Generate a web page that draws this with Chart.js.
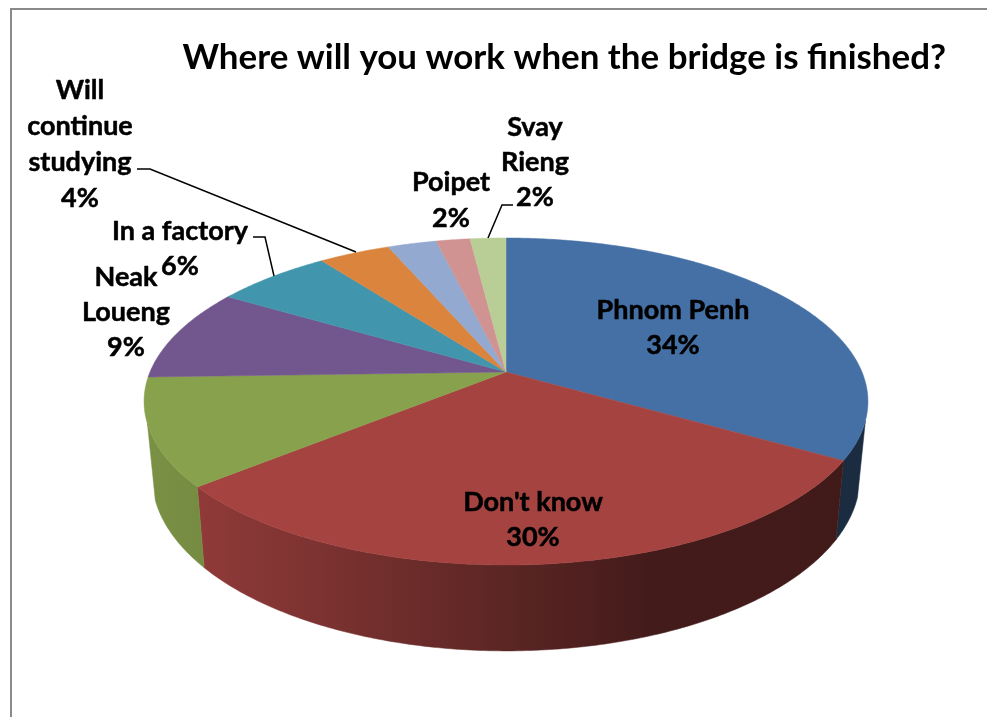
<!DOCTYPE html>
<html><head><meta charset="utf-8">
<style>
html,body{margin:0;padding:0;background:#fff;overflow:hidden}
#wrap{position:relative;width:987px;height:717px}
#frame{position:absolute;left:10px;top:8px;right:0;bottom:0;border-left:2px solid #8a8a8a;border-top:2px solid #8a8a8a;pointer-events:none}
canvas{display:block}
</style>
<script src="https://cdn.jsdelivr.net/npm/chart.js@4"></script>
</head><body>
<div id="wrap"><canvas id="c" width="987" height="717"></canvas><div id="frame"></div></div>
<script>
const chartTitle = "Where will you work when the bridge is finished?";
const categories = ["Phnom Penh","Don't know","","Neak Loueng","In a factory","Will continue studying","","Poipet","Svay Rieng"];
const shares = [33.5,30.4,10.6,9.2,6.2,3.8,2.6,1.8,1.9];
const sliceColors = ["#4570a5","#a54341","#88a14c","#72578f","#4196ad","#db843d","#93a9cf","#d19392","#b9cd96"];
const labelLines = [["Phnom Penh"],["Don't know"],[],["Neak","Loueng"],["In a factory"],["Will","continue","studying"],[],["Poipet"],["Svay","Rieng"]];

const FONT = 'Lato, Carlito, "Open Sans", sans-serif';
const geo = {cx:506, cy:372, A:91.06, B:-0.1804, D:356};
function top3d(t){
  const x=Math.cos(t), y=Math.sin(t), w=1+geo.B*y;
  return [geo.cx+geo.D*x/w, (geo.cy+geo.A*y)/w];
}
function bottom3d(p){
  return [geo.cx+(p[0]-geo.cx)*0.978, p[1]+79+(p[1]-460)*0.066];
}
function rgb(hex){return [1,3,5].map(i=>parseInt(hex.substr(i,2),16));}
const shadeStops=[[150,.90],[196,.87],[330,.74],[500,.56],[650,.41],[870,.39]];
function sideGradient(ctx,hex){
  const g=ctx.createLinearGradient(150,0,870,0), c=rgb(hex);
  shadeStops.forEach(([x,s])=>g.addColorStop((x-150)/720,`rgb(${c.map(v=>Math.round(v*s)).join(',')})`));
  return g;
}
const labelPlacement=[
  {x:673,y:310,dy:35},{x:533,y:502,dy:35},null,{x:126,y:277,dy:35},
  {x:180,y:231,dy:35},{x:80,y:90,dy:36},null,{x:451,y:182,dy:36},{x:535,y:127,dy:35}
];
const leaders=[
  null,null,null,null,
  [[253,237],[265,237],[274,276]],
  [[137,169],[150,169],[356,252]],
  null,null,
  [[513,205],[502,205],[488,238]]
];
const pie3d={
  id:'pie3d',
  beforeDatasetsDraw(chart){
    const ctx=chart.ctx, arcs=chart.getDatasetMeta(0).data;
    const lo=17*Math.PI/180, hi=162*Math.PI/180;
    arcs.forEach(a=>{
      const s=Math.max(a.startAngle,lo), e=Math.min(a.endAngle,hi);
      if(e<=s) return;
      const n=Math.max(4,Math.ceil((e-s)*90));
      ctx.beginPath();
      const tops=[];
      for(let i=0;i<=n;i++) tops.push(top3d(s+(e-s)*i/n));
      tops.forEach((p,i)=>i?ctx.lineTo(p[0],p[1]):ctx.moveTo(p[0],p[1]));
      tops.slice().reverse().forEach(p=>{const b=bottom3d(p);ctx.lineTo(b[0],b[1]);});
      ctx.closePath();
      const g=sideGradient(ctx,a.options.backgroundColor);
      ctx.fillStyle=g;ctx.fill();ctx.strokeStyle=g;ctx.lineWidth=.5;ctx.stroke();
    });
    arcs.forEach(a=>{
      const n=Math.max(4,Math.ceil((a.endAngle-a.startAngle)*90));
      ctx.beginPath();ctx.moveTo(geo.cx,geo.cy);
      for(let i=0;i<=n;i++){
        const p=top3d(a.startAngle+(a.endAngle-a.startAngle)*i/n);
        ctx.lineTo(p[0],p[1]);
      }
      ctx.closePath();
      ctx.fillStyle=a.options.backgroundColor;ctx.fill();
      ctx.strokeStyle=a.options.backgroundColor;ctx.lineWidth=.5;ctx.stroke();
    });
    return false;
  },
  afterDraw(chart){
    const ctx=chart.ctx;
    ctx.save();
    ctx.strokeStyle='#000';ctx.lineWidth=1.5;
    leaders.forEach(l=>{
      if(!l) return;
      ctx.beginPath();
      l.forEach((p,i)=>i?ctx.lineTo(p[0],p[1]):ctx.moveTo(p[0],p[1]));
      ctx.stroke();
    });
    ctx.fillStyle='#000';
    ctx.font='bold 27px '+FONT;
    ctx.textAlign='center';ctx.textBaseline='middle';
    ctx.lineWidth=.5;ctx.lineJoin='round';
    labelLines.forEach((lines,i)=>{
      const pl=labelPlacement[i];
      if(!pl) return;
      const all=lines.concat([Math.round(shares[i])+'%']);
      all.forEach((t,j)=>{
        ctx.fillText(t,pl.x,pl.y+j*pl.dy);
        ctx.strokeText(t,pl.x,pl.y+j*pl.dy);
      });
    });
    ctx.restore();
  }
};
new Chart(document.getElementById('c'),{
  type:'pie',
  data:{labels:categories,datasets:[{data:shares,backgroundColor:sliceColors,borderWidth:0}]},
  options:{
    responsive:false,animation:false,
    layout:{padding:{right:41,top:0}},
    plugins:{
      legend:{display:false},tooltip:{enabled:false},
      title:{display:true,text:chartTitle,align:'end',color:'#000',
        font:{family:FONT,size:34.9,weight:'bold'},padding:{top:37,bottom:10}}
    }
  },
  plugins:[pie3d]
});
</script>
</body></html>
